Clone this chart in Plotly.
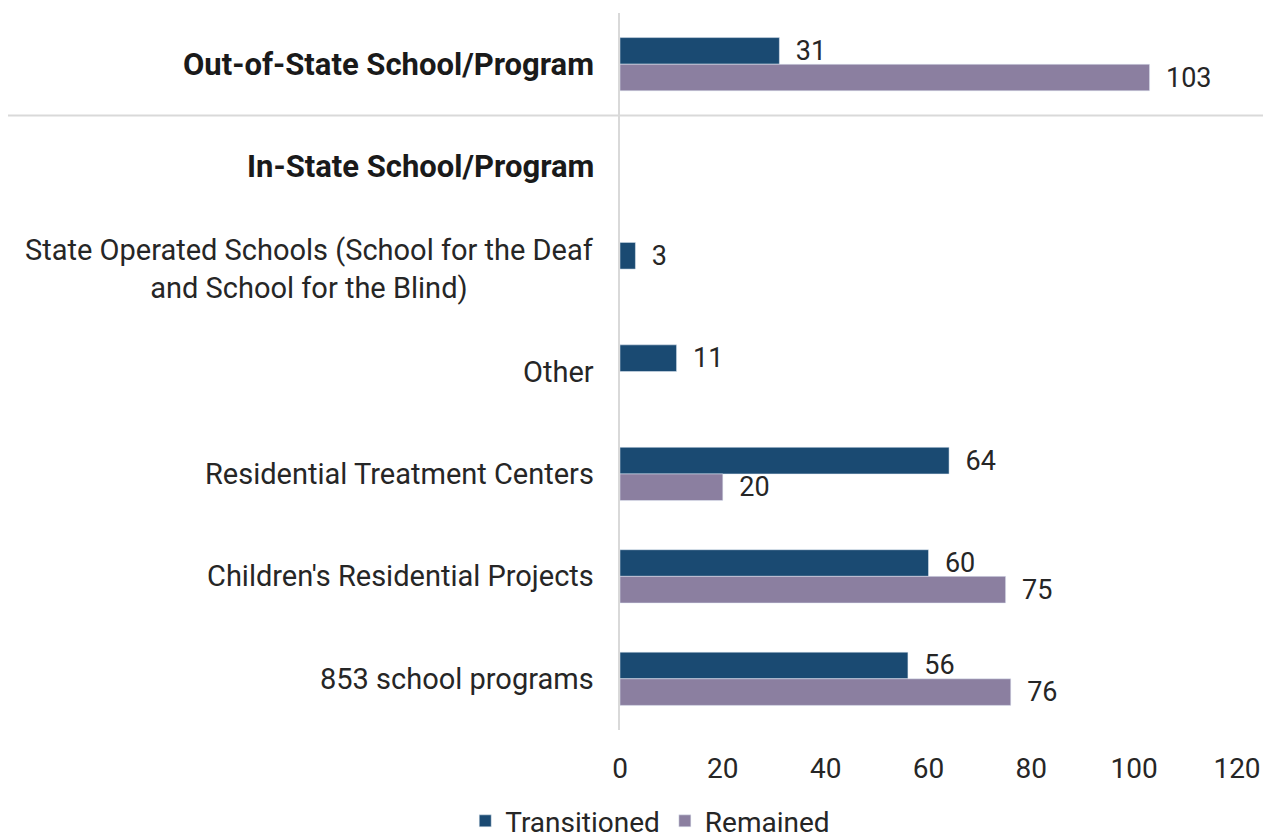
import plotly.graph_objects as go

categories = [
    "<b>Out-of-State School/Program</b>",
    "<b>In-State School/Program</b>",
    "State Operated Schools (School for the Deaf<br>and School for the Blind)",
    "Other",
    "Residential Treatment Centers",
    "Children's Residential Projects",
    "853 school programs",
]
transitioned = [31, None, 3, 11, 64, 60, 56]
remained = [103, None, None, None, 20, 75, 76]
x_ticks = [0, 20, 40, 60, 80, 100, 120]

C_TRANS = "#1a4a72"
C_REM = "#8b7fa0"
FONT = "Roboto"
TXT = "#262626"

fig = go.Figure()
fig.add_trace(go.Bar(
    name="Transitioned", y=categories, x=transitioned, orientation="h",
    marker=dict(color=C_TRANS), text=transitioned, texttemplate="  %{x}",
    textposition="outside", textfont=dict(size=27, color=TXT, family=FONT),
    constraintext="none", cliponaxis=False,
))
fig.add_trace(go.Bar(
    name="Remained", y=categories, x=remained, orientation="h",
    marker=dict(color=C_REM), text=remained, texttemplate="  %{x}",
    textposition="outside", textfont=dict(size=27, color=TXT, family=FONT),
    constraintext="none", cliponaxis=False,
))

for c in categories:
    bold = c.startswith("<b>")
    fig.add_annotation(
        x=0, xref="paper", y=c, yref="y", text=c, showarrow=False,
        xanchor="right", xshift=-24, align="center",
        font=dict(size=31 if bold else 29, color="#1a1a1a" if bold else TXT, family=FONT),
    )

# separator between out-of-state and in-state
fig.add_shape(type="line", xref="paper", yref="y",
              x0=-0.992, x1=1.06, y0=0.5, y1=0.5,
              line=dict(color="#d9d9d9", width=2))

fig.update_layout(
    width=1263, height=852,
    margin=dict(l=612, r=34, t=5, b=130),
    barmode="group", bargap=0.48, bargroupgap=0,
    plot_bgcolor="white", paper_bgcolor="white",
    font=dict(family=FONT, color=TXT, size=27),
    showlegend=True,
    legend=dict(orientation="h", x=0.049, xanchor="center", y=-0.162, yanchor="bottom",
                font=dict(size=28, color=TXT, family=FONT), itemwidth=30,
                tracegroupgap=0),
    xaxis=dict(range=[0, 120], tickvals=x_ticks, showgrid=False, zeroline=False,
               showline=False, ticks="", tickfont=dict(size=28, color=TXT),
               ticklabelstandoff=19),
    yaxis=dict(autorange="reversed", showticklabels=False, showgrid=False,
               showline=True, linecolor="#d9d9d9", linewidth=2, ticks="",
               zeroline=False),
)

fig.write_html("out.html")
